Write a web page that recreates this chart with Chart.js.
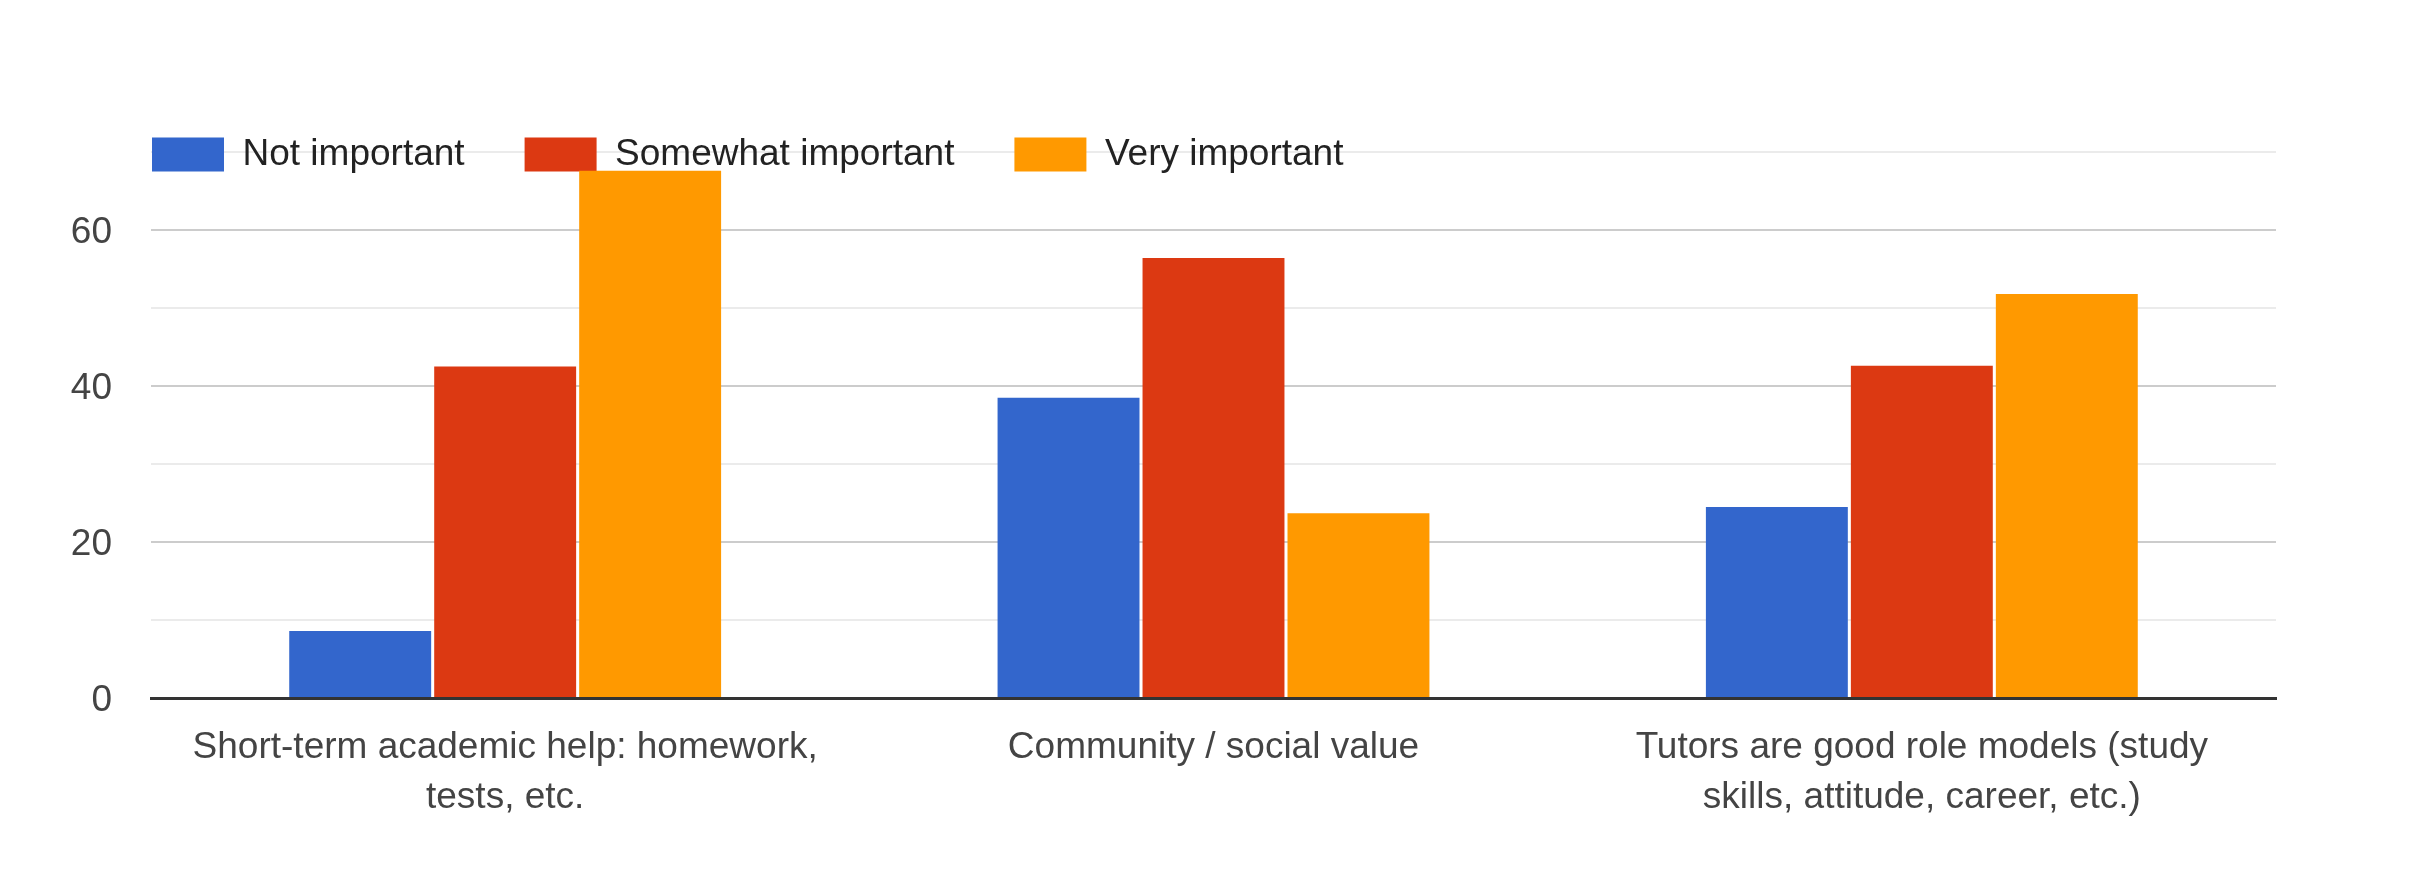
<!DOCTYPE html>
<html>
<head>
<meta charset="utf-8">
<title>Importance of tutoring</title>
<script src="https://cdn.jsdelivr.net/npm/chart.js@4.4.1/dist/chart.umd.min.js"></script>
<style>
    html, body { margin: 0; padding: 0; background: #fff; }
    #wrap { width: 2420px; height: 890px; position: relative; }
</style>
</head>
<body>
<div id="wrap"><canvas id="chart-importancia"></canvas></div>
<script>
// categorias (linhas quebradas como no original)
const categorias = [
    ['Short-term academic help: homework,', 'tests, etc.'],
    ['Community / social value'],
    ['Tutors are good role models (study', 'skills, attitude, career, etc.)']
];

const series = ['Not important', 'Somewhat important', 'Very important'];

// valores
const notImportant = [8.6, 38.5, 24.5];
const somewhatImportant = [42.5, 56.4, 42.6];
const veryImportant = [67.6, 23.7, 51.8];

const yTickLabels = [0, 20, 40, 60];

const CORES = ['#3366cc', '#dc3912', '#ff9900'];
const FONTE = 'Liberation Sans, Arial, Helvetica, sans-serif';

// legenda por cima do topo da área do gráfico, como no Google Charts
const legendaNoTopo = {
    id: 'legendaNoTopo',
    afterLayout(chart) {
        const lg = chart.legend;
        if (!lg) return;
        const pad = lg.options.labels.padding;
        const w = lg.width, h = lg.height;
        lg.left = chart.chartArea.left - pad + 1;
        lg.right = lg.left + w;
        lg.top = chart.chartArea.top - pad - 16;
        lg.bottom = lg.top + h;
    }
};

const ctx = document.getElementById('chart-importancia');

new Chart(ctx, {
    type: 'bar',
    data: {
        labels: categorias,
        datasets: [notImportant, somewhatImportant, veryImportant].map((valores, i) => ({
            label: series[i],
            data: valores,
            backgroundColor: CORES[i],
            borderWidth: 0,
            categoryPercentage: 0.614,
            barPercentage: 0.979
        }))
    },
    options: {
        responsive: true,
        maintainAspectRatio: false,
        devicePixelRatio: 1,
        animation: false,
        layout: { padding: { left: 0, right: 144, top: 45, bottom: 0 } },
        plugins: {
            legend: {
                position: 'top',
                align: 'start',
                labels: {
                    boxWidth: 72,
                    boxHeight: 34,
                    padding: 60,
                    color: '#222',
                    font: { family: FONTE, size: 37 }
                }
            },
            tooltip: { enabled: false }
        },
        scales: {
            x: {
                grid: { display: false },
                border: { display: true, color: '#333', width: 3 },
                ticks: {
                    color: '#444',
                    padding: 16,
                    maxRotation: 0,
                    autoSkip: false,
                    font: { family: FONTE, size: 37, lineHeight: 1.37 }
                },
                afterFit: s => { s.height = 192; }
            },
            y: {
                min: 0,
                max: 70,
                border: { display: false },
                grid: {
                    drawTicks: false,
                    lineWidth: 2,
                    color: c => {
                        const v = c.tick.value;
                        if (v === 0) return '#333';
                        return v % 20 === 0 ? '#cccccc' : '#ebebeb';
                    }
                },
                ticks: {
                    stepSize: 10,
                    color: '#444',
                    padding: 39,
                    labelOffset: 3,
                    font: { family: FONTE, size: 37 },
                    callback: v => yTickLabels.includes(v) ? v : ''
                },
                afterFit: s => { s.width = 151; }
            }
        }
    },
    plugins: [legendaNoTopo]
});
</script>
</body>
</html>
